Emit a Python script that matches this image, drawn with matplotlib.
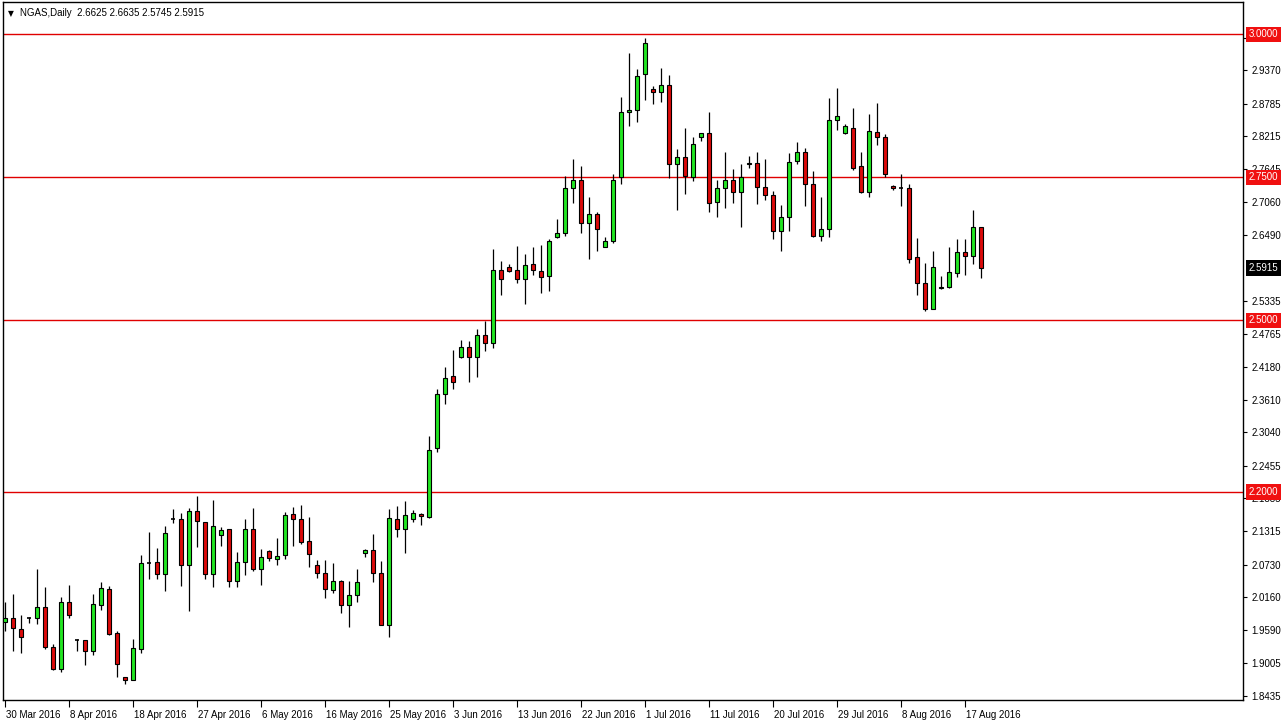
import matplotlib
matplotlib.use("Agg")
import matplotlib.pyplot as plt
import matplotlib.transforms as mtransforms
import numpy as np

plt.rcParams['font.family'] = ['Liberation Sans', 'DejaVu Sans']

# daily NGAS candles, 30 Mar 2016 .. 19 Aug 2016 (MT4 style, sunday bars included)
opens = [
    1.973, 1.980, 1.960, 1.980, 1.979, 1.999, 1.928, 1.891, 2.007, 1.941,
    1.941, 1.922, 2.003, 2.030, 1.953, 1.876, 1.872, 1.925, 2.075, 2.077,
    2.057, 2.152, 2.152, 2.072, 2.166, 2.147, 2.056, 2.124, 2.135, 2.044,
    2.077, 2.135, 2.065, 2.097, 2.083, 2.089, 2.161, 2.153, 2.115, 2.072,
    2.059, 2.028, 2.045, 2.003, 2.019, 2.094, 2.098, 2.059, 1.968, 2.153,
    2.135, 2.152, 2.162, 2.157, 2.276, 2.371, 2.402, 2.435, 2.453, 2.435,
    2.475, 2.460, 2.588, 2.594, 2.588, 2.572, 2.598, 2.586, 2.578, 2.645,
    2.652, 2.732, 2.745, 2.671, 2.686, 2.629, 2.638, 2.750, 2.864, 2.867,
    2.930, 2.904, 2.899, 2.911, 2.773, 2.785, 2.751, 2.820, 2.827, 2.706,
    2.731, 2.745, 2.724, 2.774, 2.775, 2.733, 2.719, 2.656, 2.680, 2.778,
    2.794, 2.739, 2.648, 2.659, 2.850, 2.827, 2.837, 2.769, 2.725, 2.829,
    2.820, 2.734, 2.732, 2.731, 2.610, 2.565, 2.520, 2.556, 2.559, 2.582,
    2.619, 2.612, 2.6625]
highs = [
    2.008, 2.021, 1.985, 1.982, 2.066, 2.034, 1.934, 2.016, 2.037, 1.942,
    1.941, 2.021, 2.043, 2.036, 1.957, 1.877, 1.942, 2.090, 2.130, 2.102,
    2.140, 2.170, 2.164, 2.172, 2.193, 2.148, 2.186, 2.138, 2.136, 2.095,
    2.153, 2.172, 2.101, 2.098, 2.119, 2.165, 2.173, 2.177, 2.157, 2.081,
    2.081, 2.075, 2.046, 2.044, 2.066, 2.101, 2.126, 2.079, 2.170, 2.175,
    2.184, 2.168, 2.163, 2.298, 2.380, 2.419, 2.448, 2.466, 2.464, 2.485,
    2.498, 2.625, 2.604, 2.598, 2.630, 2.616, 2.628, 2.632, 2.642, 2.677,
    2.753, 2.782, 2.770, 2.716, 2.690, 2.645, 2.755, 2.890, 2.967, 2.939,
    2.994, 2.910, 2.941, 2.929, 2.799, 2.836, 2.820, 2.828, 2.865, 2.745,
    2.794, 2.765, 2.773, 2.788, 2.794, 2.782, 2.726, 2.702, 2.792, 2.812,
    2.801, 2.761, 2.716, 2.889, 2.906, 2.843, 2.871, 2.794, 2.861, 2.880,
    2.825, 2.736, 2.755, 2.738, 2.644, 2.601, 2.621, 2.577, 2.629, 2.642,
    2.642, 2.693, 2.6635]
lows = [
    1.956, 1.922, 1.919, 1.971, 1.969, 1.925, 1.889, 1.886, 1.979, 1.922,
    1.897, 1.914, 1.994, 1.950, 1.877, 1.864, 1.871, 1.918, 2.048, 2.047,
    2.026, 2.145, 2.036, 1.991, 2.103, 2.047, 2.034, 2.106, 2.034, 2.033,
    2.054, 2.061, 2.038, 2.080, 2.073, 2.083, 2.105, 2.109, 2.069, 2.050,
    2.015, 2.023, 1.988, 1.963, 2.007, 2.086, 2.043, 1.967, 1.947, 2.121,
    2.094, 2.147, 2.142, 2.155, 2.270, 2.354, 2.380, 2.434, 2.393, 2.401,
    2.447, 2.452, 2.544, 2.584, 2.565, 2.529, 2.580, 2.548, 2.551, 2.644,
    2.647, 2.705, 2.652, 2.608, 2.621, 2.628, 2.635, 2.738, 2.839, 2.846,
    2.886, 2.878, 2.881, 2.748, 2.692, 2.720, 2.743, 2.813, 2.690, 2.681,
    2.697, 2.705, 2.664, 2.767, 2.704, 2.710, 2.643, 2.622, 2.657, 2.773,
    2.700, 2.645, 2.639, 2.646, 2.832, 2.826, 2.763, 2.723, 2.716, 2.806,
    2.751, 2.728, 2.700, 2.600, 2.545, 2.517, 2.519, 2.555, 2.556, 2.575,
    2.580, 2.598, 2.5745]
closes = [
    1.980, 1.962, 1.947, 1.980, 1.999, 1.928, 1.891, 2.007, 1.984, 1.941,
    1.922, 2.004, 2.032, 1.952, 1.899, 1.872, 1.927, 2.075, 2.075, 2.056,
    2.128, 2.152, 2.072, 2.166, 2.149, 2.057, 2.140, 2.133, 2.045, 2.077,
    2.135, 2.065, 2.086, 2.084, 2.088, 2.159, 2.152, 2.112, 2.091, 2.059,
    2.030, 2.044, 2.002, 2.019, 2.042, 2.099, 2.059, 1.968, 2.154, 2.136,
    2.159, 2.163, 2.158, 2.274, 2.372, 2.400, 2.393, 2.453, 2.435, 2.475,
    2.460, 2.588, 2.572, 2.587, 2.572, 2.596, 2.588, 2.576, 2.638, 2.652,
    2.731, 2.746, 2.670, 2.685, 2.659, 2.638, 2.746, 2.864, 2.867, 2.928,
    2.984, 2.899, 2.911, 2.773, 2.785, 2.753, 2.809, 2.827, 2.705, 2.731,
    2.745, 2.724, 2.750, 2.775, 2.733, 2.719, 2.657, 2.680, 2.776, 2.795,
    2.739, 2.647, 2.659, 2.850, 2.857, 2.839, 2.767, 2.725, 2.831, 2.820,
    2.755, 2.731, 2.732, 2.608, 2.565, 2.519, 2.594, 2.559, 2.584, 2.619,
    2.612, 2.663, 2.5915]

date_labels = ['30 Mar 2016', '8 Apr 2016', '18 Apr 2016', '27 Apr 2016', '6 May 2016',
               '16 May 2016', '25 May 2016', '3 Jun 2016', '13 Jun 2016', '22 Jun 2016',
               '1 Jul 2016', '11 Jul 2016', '20 Jul 2016', '29 Jul 2016', '8 Aug 2016',
               '17 Aug 2016']
label_step = 8  # one date label every 8 bars

price_ticks = [2.9940, 2.9370, 2.8785, 2.8215, 2.7645, 2.7060, 2.6490, 2.5335,
               2.4765, 2.4180, 2.3610, 2.3040, 2.2455, 2.1885, 2.1315, 2.0730, 2.0160,
               1.9590, 1.9005, 1.8435]
levels = [3.0, 2.75, 2.5, 2.2]
last_price = 2.5915
header = 'NGAS,Daily  2.6625 2.6635 2.5745 2.5915'

bull = '#22E622'
bear = '#DC0A0A'
level_col = '#E00000'

o = np.array(opens)
h = np.array(highs)
l = np.array(lows)
c = np.array(closes)
x = np.arange(len(o))

fig = plt.figure(figsize=(12.85, 7.23), dpi=100)
ax = fig.add_axes([3 / 1285, 23 / 723, 1240 / 1285, 698 / 723])

# level lines
for lv in levels:
    ax.axhline(lv, color=level_col, lw=1.0, zorder=1)

# wicks
ax.vlines(x, l, h, color='black', lw=0.9, zorder=2)

# bodies
w = 0.62
up = c > o
down = c < o
doji = np.abs(c - o) < 0.0005
ax.bar(x[up & ~doji], (c - o)[up & ~doji], bottom=o[up & ~doji], width=w,
       color=bull, edgecolor='black', lw=0.8, zorder=3)
ax.bar(x[down & ~doji], (o - c)[down & ~doji], bottom=c[down & ~doji], width=w,
       color=bear, edgecolor='black', lw=0.8, zorder=3)
ax.hlines(c[doji], x[doji] - w / 2, x[doji] + w / 2, color='black', lw=1.2, zorder=3)

ax.set_xlim(-0.25, 154.75)
ax.set_ylim(1.8362, 3.0565)

# price scale on the right
ax.yaxis.tick_right()
ax.set_yticks(price_ticks, [f'{v:.4f}' for v in price_ticks])
ax.tick_params(axis='y', direction='out', length=3, width=0.8, pad=3,
               labelsize=7, colors='black')

# date scale
tick_pos = [i * label_step for i in range(len(date_labels))]
ax.set_xticks(tick_pos, date_labels, ha='left')
ax.tick_params(axis='x', direction='out', length=5, width=0.8, pad=2, labelsize=7)
offset = mtransforms.ScaledTranslation(1 / 100, 0, fig.dpi_scale_trans)
for lab in ax.get_xticklabels():
    lab.set_transform(lab.get_transform() + offset)

for sp in ax.spines.values():
    sp.set_linewidth(1.0)
    sp.set_color('black')

# highlighted price boxes
trans = mtransforms.blended_transform_factory(ax.transAxes, ax.transData)
for lv in levels:
    ax.text(1.0045, lv, f'{lv:.4f}', transform=trans, ha='left', va='center',
            fontsize=7, color='white', clip_on=False, zorder=6,
            bbox=dict(boxstyle='square,pad=0.28', fc='#F01010', ec='none'))
ax.text(1.0045, last_price, f'{last_price:.4f}', transform=trans, ha='left', va='center',
        fontsize=7, color='white', clip_on=False, zorder=6,
        bbox=dict(boxstyle='square,pad=0.28', fc='black', ec='none'))

# header
ax.text(0.004, 0.984, '\u25bc', transform=ax.transAxes, fontsize=5.5,
        ha='left', va='center', family=['DejaVu Sans'])
ax.text(0.0137, 0.984, header, transform=ax.transAxes, fontsize=7,
        ha='left', va='center')

fig.savefig('out.png', dpi=100, facecolor='white')
